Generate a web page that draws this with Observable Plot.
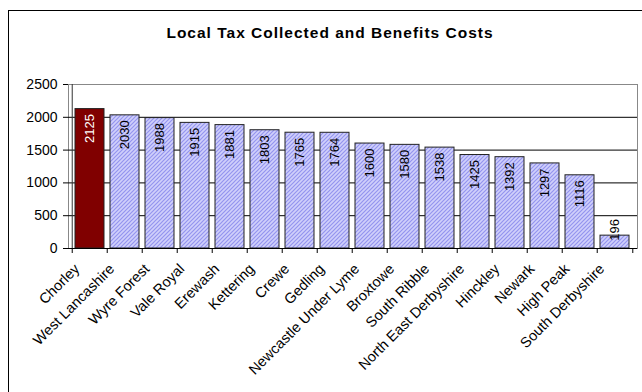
<!DOCTYPE html>
<html><head><meta charset="utf-8">
<script src="https://cdn.jsdelivr.net/npm/d3@7"></script>
<script src="https://cdn.jsdelivr.net/npm/@observablehq/plot@0.6"></script>
<style>
body{margin:0;background:#fff;}
#wrap{position:relative;width:642px;height:392px;overflow:hidden;font-family:"Liberation Sans",Arial,sans-serif;}
#border{position:absolute;left:8px;top:10px;width:700px;height:500px;border:1px solid #000;}
#title{position:absolute;left:30px;width:600px;top:24px;text-align:center;font-weight:bold;font-size:15.5px;letter-spacing:1px;color:#000;line-height:18px;}
#chart{position:absolute;left:0;top:0;}
</style></head><body>
<div id="wrap"><div id="border"></div><div id="title">Local Tax Collected and Benefits Costs</div><div id="chart"></div></div>
<script>
const categories = ["Chorley","West Lancashire","Wyre Forest","Vale Royal","Erewash","Kettering","Crewe","Gedling","Newcastle Under Lyme","Broxtowe","South Ribble","North East Derbyshire","Hinckley","Newark","High Peak","South Derbyshire"];
const values = [2125,2030,1988,1915,1881,1803,1765,1764,1600,1580,1538,1425,1392,1297,1116,196];
const highlighted = ["Chorley"];
const yTicks = [0,500,1000,1500,2000,2500];

const data = categories.map((c, i) => ({name: c, value: values[i]}));
const W = 642, H = 392, ML = 68, MR = 5, MT = 84, MB = 144;
const pIn = 0.16, pOut = 0.08;
const step = (W - ML - MR) / (categories.length - pIn + 2 * pOut);

const chart = Plot.plot({
  width: W, height: H,
  marginLeft: ML, marginRight: MR, marginTop: MT, marginBottom: MB,
  style: {fontFamily: "'Liberation Sans', Arial, sans-serif", fontSize: "13px", color: "#000", background: "transparent", overflow: "visible"},
  x: {domain: categories, paddingInner: pIn, paddingOuter: pOut, label: null},
  y: {domain: [0, 2500], label: null},
  marks: [
    Plot.frame({stroke: "#888"}),
    Plot.ruleY(yTicks.filter(t => t > 0 && t < 2500), {stroke: "#000"}),
    Plot.barY(data.filter(d => !highlighted.includes(d.name)), {x: "name", y: "value", fill: "url(#hatch)", stroke: "#222", strokeWidth: 1}),
    Plot.barY(data.filter(d => highlighted.includes(d.name)), {x: "name", y: "value", fill: "#800000", stroke: "#222", strokeWidth: 1}),
    Plot.text(data.filter(d => d.value >= 500), {x: "name", y: "value", text: d => String(d.value), rotate: -90, textAnchor: "end", dy: 5, fontSize: 13, fill: d => highlighted.includes(d.name) ? "white" : "black"}),
    Plot.text(data.filter(d => d.value < 500), {x: "name", y: "value", text: d => String(d.value), rotate: -90, textAnchor: "start", dy: 5, fontSize: 13, fill: "black"}),
    Plot.ruleY([0], {stroke: "#000"}),
    Plot.ruleX(categories.slice(0, 1), {x: d => d, y1: 0, y2: 2500, dx: -step / 2, stroke: "#333"}),
    Plot.ruleX(categories, {x: d => d, y1: 0, y2: 0, insetBottom: -5, dx: -step / 2, stroke: "#000"}),
    Plot.ruleX(categories.slice(-1), {x: d => d, y1: 0, y2: 0, insetBottom: -5, dx: step / 2, stroke: "#000"}),
    Plot.axisY({ticks: yTicks, tickFormat: d => String(d), tickSize: 5, tickPadding: 6, label: null, fontSize: 14}),
    Plot.axisX({tickRotate: -45, tickSize: 0, tickPadding: 18, dx: -13, label: null, fontSize: 14.5})
  ]
});

const defs = d3.create("svg:defs");
const pat = defs.append("pattern").attr("id", "hatch").attr("patternUnits", "userSpaceOnUse").attr("width", 4).attr("height", 4);
pat.append("rect").attr("width", 4).attr("height", 4).attr("fill", "#d0d0fb");
pat.append("path").attr("d", "M0,4 L4,0 M-1,1 L1,-1 M3,5 L5,3").attr("stroke", "#9494ef").attr("stroke-width", 1.2);
chart.insertBefore(defs.node(), chart.firstChild);
document.getElementById("chart").appendChild(chart);
</script>
</body></html>
